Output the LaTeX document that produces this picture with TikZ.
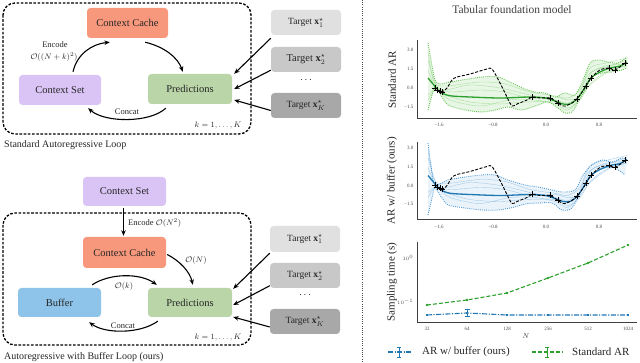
\documentclass[tikz,border=0pt]{standalone}
\usepackage{fontspec}
\setmainfont{Liberation Serif}
\usetikzlibrary{arrows.meta,calc}
\definecolor{cachec}{RGB}{247,152,124}
\definecolor{setc}{RGB}{218,196,245}
\definecolor{predc}{RGB}{186,214,168}
\definecolor{bufc}{RGB}{142,196,234}
\definecolor{tgA}{RGB}{224,224,224}
\definecolor{tgB}{RGB}{200,200,200}
\definecolor{tgC}{RGB}{168,168,168}
\definecolor{gmean}{RGB}{44,160,44}
\definecolor{genv}{RGB}{100,195,80}
\definecolor{bmean}{RGB}{31,119,180}
\definecolor{benv}{RGB}{80,155,215}
\newcommand{\truthcurve}{%
  \draw[black, line width=0.9pt, dash pattern=on 3pt off 1.6pt] plot[smooth] coordinates {(437,90) (442,92) (447,88) (452,80) (457,77) (470,74) (487,69) (492,69) (500,83) (507,97) (512,106) (517,104) (527,100) (532,97) (540,98) (550,98) (558,103) (563,106) (568,105) (577,99) (586,86) (591,78) (600,70) (609,68) (615,70) (625,63)};}
\newcommand{\crossmarks}{%
  \foreach \a/\b in {435/88,437/90,440/91,442/92,532/97,550/98,558/103,577/99,586/86,591/78,609/68,615/70,625/63}
    {\draw[black, line width=0.9pt] (\a-3,\b) -- (\a+3,\b) (\a,\b-3) -- (\a,\b+3);}}
\newcommand{\meancurve}[1]{%
  \draw[#1, line width=1.3pt] plot[smooth] coordinates {(428,78) (433,84) (438,90) (444,94) (452,96) (470,97) (500,98) (530,97) (545,98) (555,101) (563,104) (570,104) (577,99) (584,89) (591,78) (600,72) (610,68) (620,66) (627,62)};}
\newcommand{\samplecurves}[1]{%
  \draw[#1] plot[smooth] coordinates {(428,60) (436,85) (445,90) (470,85) (500,88) (530,95) (555,100) (568,103) (580,95) (592,72) (610,66) (627,60)};
  \draw[#1] plot[smooth] coordinates {(428,95) (436,89) (445,95) (470,102) (500,104) (525,102) (555,102) (568,108) (580,100) (592,82) (610,70) (627,66)};
  \draw[#1] plot[smooth] coordinates {(428,70) (436,87) (450,92) (480,90) (505,92) (530,98) (555,97) (568,100) (578,97) (588,75) (605,66) (627,64)};
  \draw[#1] plot[smooth] coordinates {(428,100) (436,90) (450,100) (480,106) (510,100) (535,100) (555,104) (568,110) (580,98) (590,85) (608,72) (627,65)};
  \draw[#1] plot[smooth] coordinates {(428,52) (434,82) (446,86) (480,82) (505,84) (530,92) (556,96) (568,98) (580,90) (590,68) (606,63) (627,58)};}
\begin{document}
\begin{tikzpicture}[x=1pt,y=-1pt,
  box/.style={rounded corners=3.5pt, inner sep=0pt, minimum width=82pt, minimum height=30pt, font=\fontsize{10.5}{12}\selectfont, text=black!85},
  tgt/.style={rounded corners=3.5pt, inner sep=0pt, minimum width=70pt, minimum height=25pt, font=\fontsize{9.5}{11}\selectfont, text=black!85},
  arr/.style={-{Stealth[length=5.5pt,width=4.5pt]}, line width=1.1pt},
  loopbox/.style={rounded corners=12pt, line width=1.3pt, dash pattern=on 2.6pt off 1.6pt},
  lbl/.style={font=\fontsize{8.5}{10}\selectfont, inner sep=0pt, text=black!85},
  ticklbl/.style={font=\fontsize{5}{6}\selectfont, text=black!70, inner sep=0.5pt},
  ylbl/.style={rotate=90, font=\fontsize{11}{13}\selectfont, text=black!85},
  axisc/.style={black!75, line width=0.8pt},
  gsample/.style={genv!70, line width=0.4pt, opacity=0.7},
  bsample/.style={benv!70, line width=0.4pt, opacity=0.7},
  genvst/.style={genv, line width=0.9pt, dash pattern=on 0.9pt off 1.2pt},
  benvst/.style={benv, line width=0.9pt, dash pattern=on 0.9pt off 1.2pt}]
\useasboundingbox (0,0) rectangle (640,363);

% ---------------- top-left: standard loop ----------------
\draw[loopbox] (3,3) rectangle (251,134);
\node[box, fill=cachec, minimum width=81pt] (cc1) at (127.5,23) {Context Cache};
\node[box, fill=setc] (cs1) at (60,90) {Context Set};
\node[box, fill=predc, minimum width=84pt] (pr1) at (190,89) {Predictions};
\node[tgt, fill=tgA] (t11) at (306,22.5) {Target $\mathbf{x}^\star_1$};
\node[tgt, fill=tgB, font=\fontsize{10.5}{12}\selectfont] (t12) at (306,59.5) {Target $\mathbf{x}^\star_2$};
\node[font=\fontsize{10}{12}\selectfont] (dots1) at (306,80) {$\cdots$};
\node[tgt, fill=tgC] (t1K) at (306,105.5) {Target $\mathbf{x}^\star_K$};

\draw[arr] ($(cs1.north)+(13,-3)$) .. controls (77,54) and (92,44) .. ($(cc1.south west)+(23,4)$);
\draw[arr] ($(cc1.south east)+(-23,4)$) .. controls (165,47) and (178,58) .. ($(pr1.north west)+(35,-2)$);
\draw[arr] ($(pr1.south west)+(18,4)$) .. controls (150,123) and (105,123) .. ($(cs1.south east)+(-13,3)$);
\node[lbl] (enc1) at (55,45) {Encode};
\node[lbl] (o1) at (54,57) {$\mathcal{O}((N+k)^2)$};
\node[lbl] (cat1) at (127,112) {Concat};
\node[lbl, font=\fontsize{8}{9}\selectfont] (k1) at (218,126) {$k=1,\ldots,K$};
\node[anchor=west, font=\fontsize{10}{12}\selectfont, inner sep=0pt, text=black!85] (cap1) at (4,145) {Standard Autoregressive Loop};

\draw[arr] ($(t11.south west)+(0,3)$) -- ($(pr1.north east)+(2,0)$);
\draw[arr] ($(t12.south west)+(0,-2)$) -- ($(pr1.east)+(2,0)$);
\draw[arr] ($(t1K.west)+(0,5)$) -- ($(pr1.east)+(2,11)$);

% ---------------- bottom-left: buffer loop ----------------
\node[box, fill=setc, minimum width=83pt, minimum height=29pt] (cs2) at (124.5,191.5) {Context Set};
\draw[loopbox] (3,213) rectangle (251,345);
\node[box, fill=cachec, minimum width=83pt, minimum height=31pt] (cc2) at (124.5,252.5) {Context Cache};
\node[box, fill=bufc, minimum width=83pt, minimum height=29pt] (buf) at (59.5,302.5) {Buffer};
\node[box, fill=predc, minimum width=84pt, minimum height=29pt] (pr2) at (190,302.5) {Predictions};
\node[tgt, fill=tgA, minimum height=26pt] (t21) at (305,239) {Target $\mathbf{x}^\star_1$};
\node[tgt, fill=tgB] (t22) at (305,275.5) {Target $\mathbf{x}^\star_2$};
\node[font=\fontsize{10}{12}\selectfont] (dots2) at (305,295) {$\cdots$};
\node[tgt, fill=tgC] (t2K) at (305,321.5) {Target $\mathbf{x}^\star_K$};

\draw[arr] ($(cs2.south)+(-1,2)$) -- ($(cc2.north)+(-1,-1)$);
\node[lbl, anchor=west] (enc2) at (128,223) {Encode $\mathcal{O}(N^2)$};
\draw[arr] ($(cc2.east)+(1,2)$) .. controls (180,261) and (190,272) .. ($(pr2.north west)+(45,-3)$);
\node[lbl] (oN) at (196,261) {$\mathcal{O}(N)$};
\draw[arr] ($(buf.north east)+(-9,-3)$) .. controls (110,273) and (140,273) .. ($(pr2.north west)+(9,-3)$);
\node[lbl] (ok) at (124,287) {$\mathcal{O}(k)$};
\draw[arr] ($(pr2.south west)+(10,4)$) .. controls (140,334) and (105,334) .. ($(buf.south east)+(-12,5)$);
\node[lbl] (cat2) at (123,326) {Concat};
\node[lbl, font=\fontsize{8}{9}\selectfont] (k2) at (218,338) {$k=1,\ldots,K$};
\node[anchor=west, font=\fontsize{10}{12}\selectfont, inner sep=0pt, text=black!85] (cap2) at (4,357) {Autoregressive with Buffer Loop (ours)};

\draw[arr] ($(t21.south west)+(0,1)$) -- ($(pr2.north east)+(1,1)$);
\draw[arr] ($(t22.south west)+(0,-2.5)$) -- ($(pr2.east)+(1,2.5)$);
\draw[arr] ($(t2K.west)+(0,5.5)$) -- ($(pr2.east)+(1,14.5)$);

% separator
\draw[black!70, line width=0.9pt, dash pattern=on 1pt off 1.2pt] (362,0) -- (362,363);

% ---------------- right: plots ----------------
\node[font=\fontsize{11.5}{13}\selectfont, text=black!75] (title) at (512,10) {Tabular foundation model};

% plot 1
\fill[genv!25, opacity=0.6] plot[smooth] coordinates {(428,43) (431,60) (435,80) (440,84) (445,83) (462,80) (482,77) (498,77) (512,83) (525,89) (535,92) (545,93) (555,97) (565,93) (575,95) (583,80) (590,63) (598,60) (608,62) (618,63) (627,57)}
  -- plot[smooth] coordinates {(627,68) (622,70) (612,72) (602,73) (592,77) (585,90) (578,102) (572,112) (565,113) (558,108) (548,102) (538,105) (522,110) (508,107) (495,110) (482,112) (465,110) (448,105) (442,97) (435,87) (432,95) (428,110)} -- cycle;
\samplecurves{gsample}
\draw[genvst] plot[smooth] coordinates {(428,43) (431,60) (435,80) (440,84) (445,83) (462,80) (482,77) (498,77) (512,83) (525,89) (535,92) (545,93) (555,97) (565,93) (575,95) (583,80) (590,63) (598,60) (608,62) (618,63) (627,57)};
\draw[genvst] plot[smooth] coordinates {(428,110) (432,95) (435,87) (442,97) (448,105) (465,110) (482,112) (495,110) (508,107) (522,110) (538,105) (548,102) (558,108) (565,113) (572,112) (578,102) (585,90) (592,77) (602,73) (612,72) (622,70) (627,68)};
\meancurve{gmean}
\truthcurve
\crossmarks
\draw[axisc] (417,40) -- (417,118) -- (637,118);
\node[ticklbl, anchor=east] (p1y1) at (414,50) {3.0};
\node[ticklbl, anchor=east] (p1y2) at (414,69) {1.5};
\node[ticklbl, anchor=east] (p1y3) at (414,88) {0.0};
\node[ticklbl, anchor=east] (p1y4) at (414,107) {−1.5};
\node[ticklbl] (p1x1) at (439,125) {−1.6};
\node[ticklbl] (p1x2) at (493,125) {−0.8};
\node[ticklbl] (p1x3) at (546,125) {0.0};
\node[ticklbl] (p1x4) at (599,125) {0.8};
\node[ylbl] (yl1) at (392,80) {Standard AR};

% plot 2
\fill[benv!20, opacity=0.6] plot[smooth] coordinates {(428,143) (431,165) (435,185) (448,180) (465,177) (482,175) (495,175) (508,180) (525,185) (538,187) (552,190) (562,192) (575,190) (583,175) (592,165) (602,160) (612,162) (622,158) (627,160)}
  -- plot[smooth] coordinates {(625,175) (615,168) (605,168) (595,172) (587,180) (580,193) (572,208) (562,210) (552,203) (538,203) (525,204) (515,207) (498,210) (482,210) (465,208) (448,205) (442,198) (435,188) (432,198) (428,215)} -- cycle;
\begin{scope}[yshift=-97.5pt]
\samplecurves{bsample}
\end{scope}
\draw[benvst] plot[smooth] coordinates {(428,143) (431,165) (435,185) (448,180) (465,177) (482,175) (495,175) (508,180) (525,185) (538,187) (552,190) (562,192) (575,190) (583,175) (592,165) (602,160) (612,162) (622,158) (627,160)};
\draw[benvst] plot[smooth] coordinates {(428,215) (432,198) (435,188) (442,198) (448,205) (465,208) (482,210) (498,210) (515,207) (525,204) (538,203) (552,203) (562,210) (572,208) (580,193) (587,180) (595,172) (605,168) (615,168) (625,175)};
\begin{scope}[yshift=-97.5pt]
\meancurve{bmean}
\truthcurve
\crossmarks
\end{scope}
\draw[axisc] (417,142) -- (417,219) -- (637,219);
\node[ticklbl, anchor=east] (p2y1) at (414,148) {3.0};
\node[ticklbl, anchor=east] (p2y2) at (414,167) {1.5};
\node[ticklbl, anchor=east] (p2y3) at (414,185.5) {0.0};
\node[ticklbl, anchor=east] (p2y4) at (414,204) {−1.5};
\node[ticklbl] (p2x1) at (439,227) {−1.6};
\node[ticklbl] (p2x2) at (493,227) {−0.8};
\node[ticklbl] (p2x3) at (546,227) {0.0};
\node[ticklbl] (p2x4) at (599,227) {0.8};
\node[ylbl] (yl2) at (392,181) {AR w/ buffer (ours)};

% plot 3
\draw[gmean, line width=1.1pt, dash pattern=on 4pt off 2pt] (427,305) -- (467,300) -- (507,293) -- (548,278) -- (588,263) -- (628,245);
\foreach \a/\b in {427/305,467/300,507/293,548/278,588/263,628/245}
  {\fill[gmean] (\a,\b) circle (1.3pt);}
\draw[bmean, line width=1.1pt, dash pattern=on 5pt off 1.5pt on 1.2pt off 1.5pt] (427,315) -- (467,313) -- (507,315) -- (548,315) -- (588,315) -- (628,315);
\foreach \a/\b in {427/315,467/313,507/315,548/315,588/315,628/315}
  {\fill[bmean] (\a-1.4,\b-1.4) rectangle (\a+1.4,\b+1.4);}
\draw[bmean, line width=0.8pt] (467,309.5) -- (467,316.5) (464.5,309.5) -- (469.5,309.5) (464.5,316.5) -- (469.5,316.5);
\draw[axisc] (417,242) -- (417,322) -- (637,322);
\node[ticklbl, anchor=east] (p3y1) at (414,258) {$10^{0}$};
\node[ticklbl, anchor=east] (p3y2) at (414,302) {$10^{-1}$};
\node[ticklbl] (p3x1) at (427,329) {32};
\node[ticklbl] (p3x2) at (467,329) {64};
\node[ticklbl] (p3x3) at (507,329) {128};
\node[ticklbl] (p3x4) at (548,329) {256};
\node[ticklbl] (p3x5) at (588,329) {512};
\node[ticklbl] (p3x6) at (628,329) {1024};
\node[font=\fontsize{7}{8}\selectfont, text=black!80] (nlbl) at (526,336) {$N$};
\node[ylbl] (yl3) at (392,282) {Sampling time (s)};

% legend
\draw[bmean, line width=1.1pt, dash pattern=on 5pt off 1.5pt on 1.2pt off 1.5pt] (388,352) -- (411,352);
\draw[bmean, line width=0.8pt] (399,347) -- (399,357) (397,347) -- (401,347) (397,357) -- (401,357);
\fill[bmean] (397.6,350.6) rectangle (400.4,353.4);
\node[anchor=west, font=\fontsize{11}{13}\selectfont, text=black!85, inner sep=0pt] (leg1) at (422,352) {AR w/ buffer (ours)};
\draw[gmean, line width=1.1pt, dash pattern=on 4pt off 2pt] (532,352) -- (563,352);
\draw[gmean, line width=0.8pt] (547,347) -- (547,357) (545,347) -- (549,347) (545,357) -- (549,357);
\fill[gmean] (547,352) circle (1.3pt);
\node[anchor=west, font=\fontsize{11}{13}\selectfont, text=black!85, inner sep=0pt] (leg2) at (572,352) {Standard AR};
\end{tikzpicture}
\end{document}
